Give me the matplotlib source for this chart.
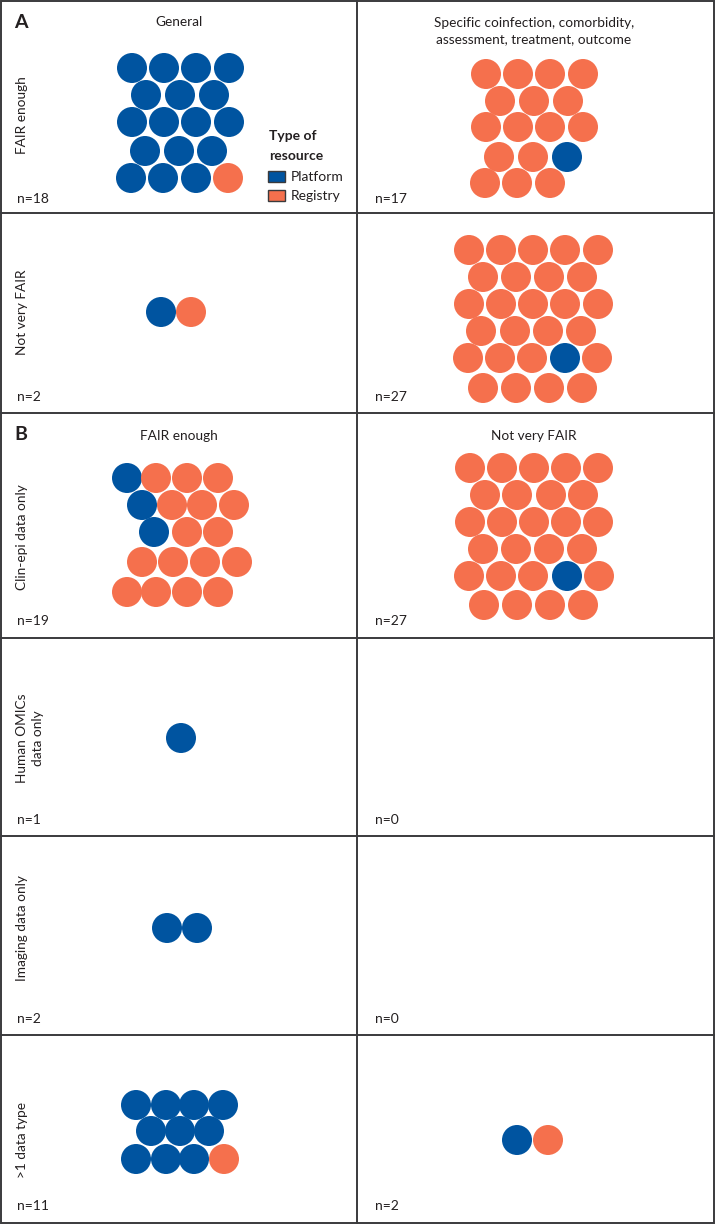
import matplotlib.pyplot as plt
from matplotlib.patches import Circle, Rectangle

plt.rcParams['font.family'] = ['Lato', 'DejaVu Sans']

BLUE = '#0054a0'
ORANGE = '#f5704d'
colors = {'P': BLUE, 'R': ORANGE}

# resource type of every dot, row by row (P = platform, R = registry)
general_fair = ['PPPP', 'PPP', 'PPPP', 'PPP', 'PPPR']
specific_fair = ['RRRR', 'RRR', 'RRRR', 'RRP', 'RRR']
general_notfair = ['PR']
specific_notfair = ['RRRRR', 'RRRR', 'RRRRR', 'RRRR', 'RRRPR', 'RRRR']
clinepi_fair = ['PRRR', 'PRRR', 'PRR', 'RRRR', 'RRRR']
clinepi_notfair = ['RRRRR', 'RRRR', 'RRRRR', 'RRRR', 'RRRPR', 'RRRR']
omics_fair = ['P']
imaging_fair = ['PP']
multi_fair = ['PPPP', 'PPP', 'PPPR']
multi_notfair = ['PR']

# where the packed dots sit, in figure pixels
general_fair_x = [[132, 164, 196, 229], [146, 180, 214], [132, 164, 196, 229], [145, 179, 212], [131, 163, 196, 228]]
general_fair_y = [68, 95, 122, 151, 178]
specific_fair_x = [[486, 518, 550, 583], [500, 534, 568], [486, 518, 550, 583], [499, 533, 567], [485, 517, 550]]
specific_fair_y = [74, 101, 127, 157, 183]
general_notfair_x = [[161, 191]]
general_notfair_y = [312]
specific_notfair_x = [[469, 501, 533, 565, 598], [483, 516, 549, 582], [469, 501, 533, 565, 598], [481, 515, 548, 581], [468, 500, 532, 565, 597], [483, 516, 549, 582]]
specific_notfair_y = [250, 277, 304, 331, 358, 388]
clinepi_fair_x = [[127, 156, 187, 218], [142, 172, 202, 234], [154, 187, 218], [142, 173, 205, 237], [127, 156, 187, 218]]
clinepi_fair_y = [478, 505, 532, 562, 592]
clinepi_notfair_x = [[470, 502, 534, 566, 598], [485, 517, 551, 583], [470, 502, 534, 566, 598], [483, 516, 549, 582], [469, 501, 533, 567, 599], [484, 517, 550, 583]]
clinepi_notfair_y = [468, 495, 522, 549, 576, 605]
omics_fair_x = [[181]]
omics_fair_y = [738]
imaging_fair_x = [[167, 197]]
imaging_fair_y = [928]
multi_fair_x = [[136, 166, 194, 223], [151, 180, 209], [136, 166, 194, 224]]
multi_fair_y = [1105, 1131, 1159]
multi_notfair_x = [[517, 548]]
multi_notfair_y = [1140]

h_lines = [213, 413, 638, 836, 1035]
n_labels = [(17, 199, 'n=18'), (375, 199, 'n=17'), (17, 397, 'n=2'), (375, 397, 'n=27'),
            (17, 621, 'n=19'), (375, 621, 'n=27'), (17, 820, 'n=1'), (375, 820, 'n=0'),
            (17, 1019, 'n=2'), (375, 1019, 'n=0'), (17, 1206, 'n=11'), (375, 1206, 'n=2')]
row_labels = [(22, 115, 'FAIR enough'), (22, 312, 'Not very FAIR'), (22, 537, 'Clin-epi data only'),
              (30, 738, 'Human OMICs\ndata only'), (22, 928, 'Imaging data only'), (22, 1140, '>1 data type')]
col_labels = [(179, 22, 'General'), (534, 31, 'Specific coinfection, comorbidity,\nassessment, treatment, outcome'),
              (179, 436, 'FAIR enough'), (534, 436, 'Not very FAIR')]

fig = plt.figure(figsize=(7.15, 12.25), dpi=100)
ax = fig.add_axes([0, 0, 1, 1])
ax.set_xlim(0, 715)
ax.set_ylim(1225, 0)
ax.axis('off')


def draw_dots(rows, xs, ys):
    for row, row_x, y in zip(rows, xs, ys):
        for kind, x in zip(row, row_x):
            ax.add_patch(Circle((x, y), 15, fc=colors[kind], ec='none'))


draw_dots(general_fair, general_fair_x, general_fair_y)
draw_dots(specific_fair, specific_fair_x, specific_fair_y)
draw_dots(general_notfair, general_notfair_x, general_notfair_y)
draw_dots(specific_notfair, specific_notfair_x, specific_notfair_y)
draw_dots(clinepi_fair, clinepi_fair_x, clinepi_fair_y)
draw_dots(clinepi_notfair, clinepi_notfair_x, clinepi_notfair_y)
draw_dots(omics_fair, omics_fair_x, omics_fair_y)
draw_dots(imaging_fair, imaging_fair_x, imaging_fair_y)
draw_dots(multi_fair, multi_fair_x, multi_fair_y)
draw_dots(multi_notfair, multi_notfair_x, multi_notfair_y)

# panel grid
line_col = '#3a3a3c'
ax.add_patch(Rectangle((1, 1), 713, 1222, fc='none', ec=line_col, lw=1.4))
ax.plot([357, 357], [1, 1223], color=line_col, lw=1.4)
for y in h_lines:
    ax.plot([1, 714], [y, y], color=line_col, lw=1.4)

txt = '#231f20'
for x, y, s in n_labels:
    ax.text(x, y, s, fontsize=10, color=txt, va='center', ha='left')
for x, y, s in row_labels:
    ax.text(x, y, s, fontsize=9.8, color=txt, va='center', ha='center', rotation=90,
            multialignment='center', linespacing=1.45)
for x, y, s in col_labels:
    ax.text(x, y, s, fontsize=9.8, color=txt, va='center', ha='center', linespacing=1.45)

ax.text(14, 22, 'A', fontsize=14, fontweight='bold', color=txt, va='center')
ax.text(14, 435, 'B', fontsize=14, fontweight='bold', color=txt, va='center')

# legend
ax.text(269, 136, 'Type of', fontsize=10, fontweight='bold', color=txt, va='center')
ax.text(269, 156, 'resource', fontsize=10, fontweight='bold', color=txt, va='center')
ax.add_patch(Rectangle((268, 171), 17, 11, fc=BLUE, ec=line_col, lw=1))
ax.add_patch(Rectangle((268, 190), 17, 11, fc=ORANGE, ec=line_col, lw=1))
ax.text(291, 177, 'Platform', fontsize=10, color=txt, va='center')
ax.text(291, 196, 'Registry', fontsize=10, color=txt, va='center')

fig.savefig('out.png', dpi=100)
